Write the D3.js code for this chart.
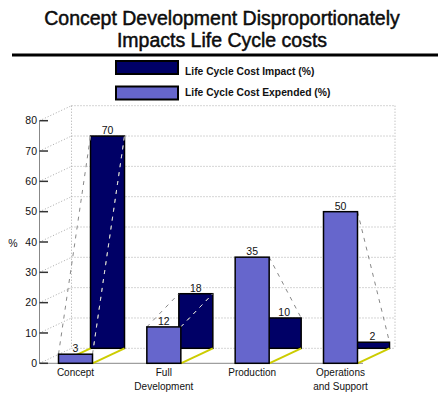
<!DOCTYPE html>
<html>
<head>
<meta charset="utf-8">
<script src="https://cdn.jsdelivr.net/npm/d3@7"></script>
<style>
  body { margin: 0; background: #fff; }
  svg { display: block; }
  text { font-family: "Liberation Sans", Arial, sans-serif; fill: #111; }
</style>
</head>
<body>
<svg id="chart" width="438" height="396"></svg>
<script>
// ---- data ----
const categories = ["Concept", "Full\nDevelopment", "Production", "Operations\nand Support"];
const impactPct = [70, 18, 10, 2];     // Life Cycle Cost Impact (%)
const expendedPct = [3, 12, 35, 50];   // Life Cycle Cost Expended (%)
const yTicks = [0, 10, 20, 30, 40, 50, 60, 70, 80];
const titleLines = ["Concept Development Disproportionately", "Impacts Life Cycle costs"];
const seriesNames = ["Life Cycle Cost Impact (%)", "Life Cycle Cost Expended (%)"];

// ---- layout ----
const svg = d3.select("#chart");
const DARK = "#000066", LIGHT = "#6666cc", YELLOW = "#cccc00", GRID = "#aaa";
const dx = 32, dy = -15;               // offset of the back plane (oblique depth)
const frontLeft = 39.5, frontRight = 363;
const barW = 34;

const y = d3.scaleLinear().domain([0, 80]).range([363.3, 120.7]);
const x = d3.scalePoint().domain(categories).range([75.5, 340.5]);

const rows = categories.map((c, i) => ({ cat: c, impact: impactPct[i], expended: expendedPct[i] }));

// ---- title + rule ----
svg.append("g").selectAll("text").data(titleLines).join("text")
  .attr("x", 222).attr("y", (d, i) => 25 + i * 22)
  .attr("text-anchor", "middle").attr("font-size", 19.5)
  .attr("fill", "#000").attr("stroke", "#000").attr("stroke-width", 0.45)
  .text(d => d);

svg.append("line").attr("x1", 12).attr("x2", 438).attr("y1", 55).attr("y2", 55)
  .attr("stroke", "#000").attr("stroke-width", 3);

// ---- legend ----
const legend = svg.append("g");
[DARK, LIGHT].forEach((col, i) => {
  const ly = i === 0 ? 61 : 86.5;
  legend.append("rect").attr("x", 116).attr("y", ly).attr("width", 62).attr("height", 13)
    .attr("fill", col).attr("stroke", "#000").attr("stroke-width", 2);
  legend.append("text").attr("x", 185).attr("y", i === 0 ? 74.5 : 96)
    .attr("font-size", 10.3).attr("font-weight", "bold").attr("fill", "#000")
    .text(seriesNames[i]);
});

// ---- back plane: grid, edges, depth lines ----
const back = svg.append("g").attr("stroke", GRID).attr("stroke-width", 1)
  .attr("stroke-dasharray", "1,2").attr("fill", "none");
back.selectAll("line.grid").data(yTicks).join("line").attr("class", "grid")
  .attr("x1", frontLeft + dx).attr("x2", frontRight + dx)
  .attr("y1", d => y(d) + dy).attr("y2", d => y(d) + dy);
back.selectAll("line.depth").data(yTicks).join("line").attr("class", "depth")
  .attr("x1", frontLeft).attr("x2", frontLeft + dx)
  .attr("y1", d => y(d)).attr("y2", d => y(d) + dy);
[frontLeft + dx, frontRight + dx].forEach(bx => {
  back.append("line").attr("x1", bx).attr("x2", bx)
    .attr("y1", y(80) + dy).attr("y2", y(0) + dy);
});

// ---- front axis frame ----
svg.append("line").attr("x1", frontLeft).attr("x2", frontLeft)
  .attr("y1", y(80)).attr("y2", y(0)).attr("stroke", "#888");
svg.append("line").attr("x1", frontLeft).attr("x2", frontRight)
  .attr("y1", y(0)).attr("y2", y(0)).attr("stroke", "#888");

// ---- back bars: impact ----
const defs = svg.append("defs");
rows.forEach((d, i) => {
  defs.append("clipPath").attr("id", "clipBack" + i).append("rect")
    .attr("x", x(d.cat) - barW / 2 + dx).attr("y", y(d.impact) + dy)
    .attr("width", barW).attr("height", y(0) - y(d.impact));
});

svg.append("g").selectAll("rect").data(rows).join("rect")
  .attr("x", d => x(d.cat) - barW / 2 + dx)
  .attr("y", d => y(d.impact) + dy)
  .attr("width", barW)
  .attr("height", d => y(0) - y(d.impact))
  .attr("fill", DARK).attr("stroke", "#000").attr("stroke-width", 1.5);

// ---- floor connectors (yellow) ----
const floor = svg.append("g").attr("stroke", YELLOW).attr("stroke-width", 2);
rows.forEach(d => {
  [-1, 1].forEach(s => {
    const fx = x(d.cat) + s * barW / 2;
    floor.append("line").attr("x1", fx).attr("y1", y(0))
      .attr("x2", fx + dx).attr("y2", y(0) + dy);
  });
});

// ---- top connectors (dashed) ----
const tops = svg.append("g").attr("fill", "none").attr("stroke-width", 1).attr("stroke-dasharray", "4,5");
rows.forEach((d, i) => {
  [-1, 1].forEach(s => {
    const fx = x(d.cat) + s * barW / 2;
    const seg = { x1: fx, y1: y(d.expended), x2: fx + dx, y2: y(d.impact) + dy };
    tops.append("line").attr("x1", seg.x1).attr("y1", seg.y1).attr("x2", seg.x2).attr("y2", seg.y2)
      .attr("stroke", "#888");
    tops.append("line").attr("x1", seg.x1).attr("y1", seg.y1).attr("x2", seg.x2).attr("y2", seg.y2)
      .attr("stroke", "#ddd").attr("clip-path", `url(#clipBack${i})`);
  });
});

// ---- front bars: expended ----
svg.append("g").selectAll("rect").data(rows).join("rect")
  .attr("x", d => x(d.cat) - barW / 2)
  .attr("y", d => y(d.expended))
  .attr("width", barW)
  .attr("height", d => y(0) - y(d.expended))
  .attr("fill", LIGHT).attr("stroke", "#000").attr("stroke-width", 1.5);

// ---- value labels ----
const vals = svg.append("g").attr("font-size", 10.5).attr("text-anchor", "middle");
vals.selectAll("text.imp").data(rows).join("text").attr("class", "imp")
  .attr("x", d => x(d.cat) + dx).attr("y", d => y(d.impact) + dy - 2)
  .text(d => d.impact);
vals.selectAll("text.exp").data(rows).join("text").attr("class", "exp")
  .attr("x", d => x(d.cat)).attr("y", d => y(d.expended) - 2)
  .text(d => d.expended);

// ---- y axis ticks and labels ----
const yAxis = svg.append("g");
yAxis.selectAll("line").data(yTicks).join("line")
  .attr("x1", frontLeft).attr("x2", frontLeft + 8.5)
  .attr("y1", d => y(d)).attr("y2", d => y(d))
  .attr("stroke", "#333").attr("stroke-width", 1.5);
yAxis.selectAll("text").data(yTicks).join("text")
  .attr("x", 37).attr("y", d => y(d)).attr("dy", "0.35em")
  .attr("text-anchor", "end").attr("font-size", 10.5)
  .text(d => d);
svg.append("text").attr("x", 13).attr("y", 243).attr("dy", "0.35em")
  .attr("text-anchor", "middle").attr("font-size", 10.5).text("%");

// ---- category labels ----
const cats = svg.append("g").attr("font-size", 10).attr("text-anchor", "middle");
rows.forEach(d => {
  const t = cats.append("text").attr("y", 376);
  d.cat.split("\n").forEach((line, k) => {
    t.append("tspan").attr("x", x(d.cat)).attr("dy", k === 0 ? 0 : 14).text(line);
  });
});
</script>
</body>
</html>
